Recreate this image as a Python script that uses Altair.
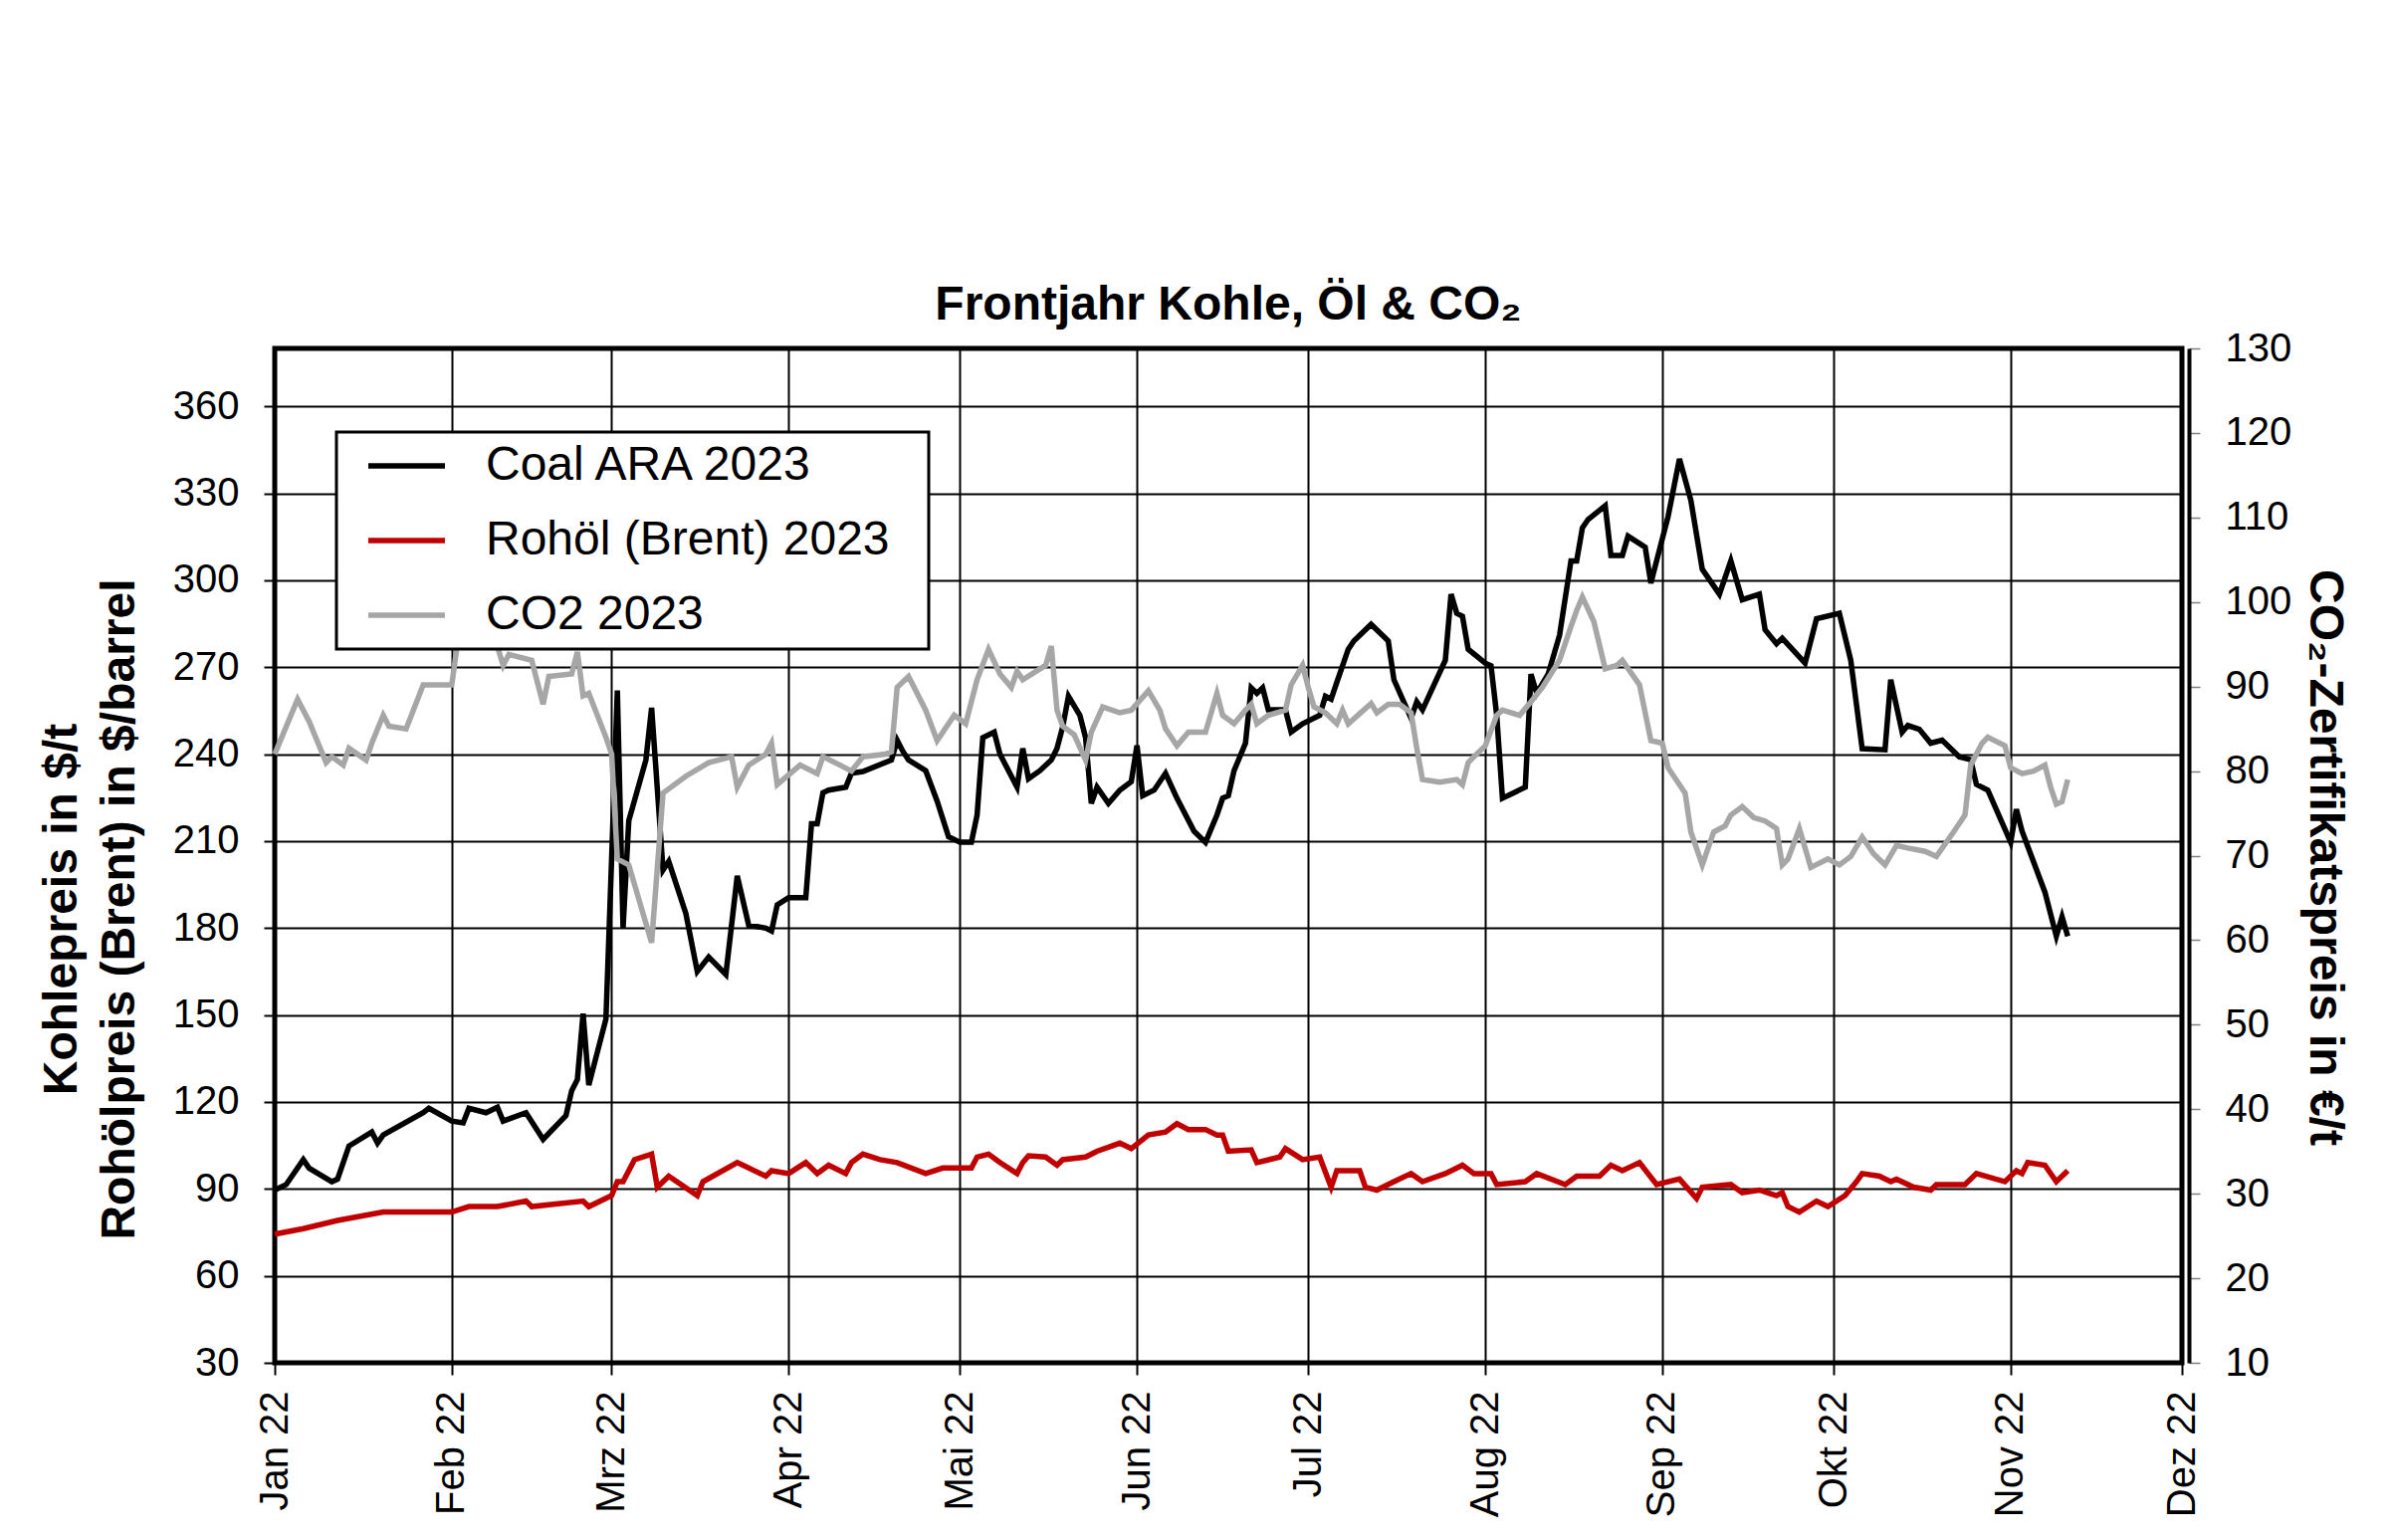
import altair as alt
import pandas as pd

# ---------------- data ----------------
coal_dates = [
    "2022-01-01", "2022-01-03", "2022-01-06", "2022-01-07", "2022-01-11", "2022-01-12", "2022-01-14",
    "2022-01-18", "2022-01-19", "2022-01-20", "2022-01-27", "2022-01-28", "2022-02-01", "2022-02-03",
    "2022-02-04", "2022-02-07", "2022-02-09", "2022-02-10", "2022-02-14", "2022-02-17", "2022-02-21",
    "2022-02-22", "2022-02-23", "2022-02-24", "2022-02-25", "2022-02-28", "2022-03-01", "2022-03-02",
    "2022-03-03", "2022-03-04", "2022-03-07", "2022-03-08", "2022-03-10", "2022-03-11", "2022-03-14",
    "2022-03-16", "2022-03-18", "2022-03-21", "2022-03-23", "2022-03-25", "2022-03-28", "2022-03-29",
    "2022-03-30", "2022-04-01", "2022-04-04", "2022-04-05", "2022-04-06", "2022-04-07", "2022-04-08",
    "2022-04-11", "2022-04-12", "2022-04-14", "2022-04-19", "2022-04-20", "2022-04-21", "2022-04-22",
    "2022-04-25", "2022-04-27", "2022-04-29", "2022-05-01", "2022-05-03", "2022-05-04", "2022-05-05",
    "2022-05-07", "2022-05-08", "2022-05-11", "2022-05-12", "2022-05-13", "2022-05-15", "2022-05-17",
    "2022-05-18", "2022-05-19", "2022-05-20", "2022-05-22", "2022-05-23", "2022-05-24", "2022-05-25",
    "2022-05-27", "2022-05-29", "2022-05-31", "2022-06-01", "2022-06-02", "2022-06-04", "2022-06-06",
    "2022-06-08", "2022-06-11", "2022-06-13", "2022-06-15", "2022-06-16", "2022-06-17", "2022-06-18",
    "2022-06-20", "2022-06-21", "2022-06-22", "2022-06-23", "2022-06-24", "2022-06-27", "2022-06-28",
    "2022-06-30", "2022-07-03", "2022-07-04", "2022-07-05", "2022-07-06", "2022-07-08", "2022-07-09",
    "2022-07-12", "2022-07-15", "2022-07-16", "2022-07-19", "2022-07-20", "2022-07-21", "2022-07-25",
    "2022-07-26", "2022-07-27", "2022-07-28", "2022-07-29", "2022-08-01", "2022-08-02", "2022-08-03",
    "2022-08-04", "2022-08-08", "2022-08-09", "2022-08-10", "2022-08-12", "2022-08-14", "2022-08-16",
    "2022-08-17", "2022-08-18", "2022-08-19", "2022-08-22", "2022-08-23", "2022-08-25", "2022-08-26",
    "2022-08-29", "2022-08-30", "2022-08-31", "2022-09-02", "2022-09-04", "2022-09-06", "2022-09-08",
    "2022-09-11", "2022-09-13", "2022-09-15", "2022-09-18", "2022-09-19", "2022-09-21", "2022-09-22",
    "2022-09-26", "2022-09-28", "2022-10-02", "2022-10-04", "2022-10-06", "2022-10-10", "2022-10-11",
    "2022-10-13", "2022-10-14", "2022-10-16", "2022-10-18", "2022-10-20", "2022-10-23", "2022-10-25",
    "2022-10-26", "2022-10-28", "2022-11-01", "2022-11-02", "2022-11-03", "2022-11-07", "2022-11-09",
    "2022-11-10", "2022-11-11",
]
coal_values = [
    89.6, 91.5, 100.1, 97.2, 92.5, 93.4, 104.8,
    109.6, 105.8, 108.6, 116.3, 117.8, 113.4, 112.8,
    117.8, 116.3, 118.2, 113.4, 116.3, 107.1, 115.3,
    123.9, 127.7, 150.5, 125.8, 148.6, 204.0, 262.0,
    180.0, 217.0, 238.0, 256.0, 200.0, 203.0, 185.0,
    165.0, 170.0, 164.0, 198.0, 181.0, 180.0, 179.0,
    188.0, 190.5, 190.5, 216.0, 216.0, 226.7, 227.6,
    228.6, 233.4, 234.0, 238.0, 244.8, 241.0, 238.0,
    234.3, 223.8, 211.5, 209.6, 209.6, 219.0, 245.7,
    247.6, 240.0, 228.6, 242.0, 231.5, 234.3, 238.0,
    242.0, 249.5, 260.0, 253.4, 245.7, 223.0, 228.6,
    223.0, 227.6, 230.5, 243.0, 225.7, 227.6, 233.4,
    224.8, 213.4, 209.6, 219.0, 224.8, 225.7, 234.3,
    243.8, 262.9, 261.0, 262.9, 255.3, 255.3, 247.6,
    250.5, 253.4, 260.0, 259.0, 264.8, 276.2, 279.1,
    284.8, 279.1, 265.7, 252.4, 258.1, 255.3, 272.4,
    295.2, 288.6, 287.6, 276.2, 271.4, 270.5, 253.4,
    224.8, 228.6, 267.6, 261.0, 267.6, 281.0, 306.7,
    306.7, 318.1, 321.0, 325.7, 308.6, 308.6, 315.2,
    311.4, 299.0, 306.7, 321.9, 341.9, 327.6, 303.8,
    295.2, 306.7, 293.3, 295.2, 282.9, 278.1, 280.0,
    271.4, 286.7, 288.6, 272.4, 241.9, 241.5, 265.7,
    247.6, 249.9, 248.6, 243.8, 244.8, 239.1, 238.1,
    229.6, 227.6, 209.6, 221.0, 213.4, 192.4, 177.2,
    183.9, 177.2,
]

brent_dates = [
    "2022-01-01", "2022-01-06", "2022-01-12", "2022-01-20", "2022-01-27", "2022-02-01", "2022-02-04",
    "2022-02-09", "2022-02-14", "2022-02-15", "2022-02-24", "2022-02-25", "2022-03-01", "2022-03-02",
    "2022-03-03", "2022-03-05", "2022-03-08", "2022-03-09", "2022-03-11", "2022-03-16", "2022-03-17",
    "2022-03-23", "2022-03-24", "2022-03-28", "2022-03-29", "2022-04-01", "2022-04-04", "2022-04-06",
    "2022-04-08", "2022-04-11", "2022-04-12", "2022-04-14", "2022-04-17", "2022-04-20", "2022-04-25",
    "2022-04-28", "2022-05-03", "2022-05-04", "2022-05-06", "2022-05-08", "2022-05-11", "2022-05-12",
    "2022-05-13", "2022-05-16", "2022-05-18", "2022-05-19", "2022-05-23", "2022-05-25", "2022-05-29",
    "2022-05-31", "2022-06-03", "2022-06-06", "2022-06-08", "2022-06-10", "2022-06-13", "2022-06-15",
    "2022-06-16", "2022-06-17", "2022-06-21", "2022-06-22", "2022-06-26", "2022-06-27", "2022-06-30",
    "2022-07-03", "2022-07-05", "2022-07-06", "2022-07-10", "2022-07-11", "2022-07-13", "2022-07-16",
    "2022-07-19", "2022-07-21", "2022-07-25", "2022-07-28", "2022-07-30", "2022-08-02", "2022-08-03",
    "2022-08-08", "2022-08-10", "2022-08-15", "2022-08-17", "2022-08-21", "2022-08-23", "2022-08-25",
    "2022-08-28", "2022-08-31", "2022-09-04", "2022-09-07", "2022-09-08", "2022-09-13", "2022-09-15",
    "2022-09-18", "2022-09-21", "2022-09-22", "2022-09-23", "2022-09-25", "2022-09-28", "2022-09-30",
    "2022-10-03", "2022-10-05", "2022-10-06", "2022-10-09", "2022-10-11", "2022-10-12", "2022-10-15",
    "2022-10-18", "2022-10-19", "2022-10-24", "2022-10-26", "2022-10-31", "2022-11-02", "2022-11-03",
    "2022-11-04", "2022-11-07", "2022-11-09", "2022-11-11",
]
brent_values = [
    74.4, 76.3, 79.1, 82.0, 82.0, 82.0, 83.9,
    83.9, 85.8, 83.9, 85.8, 83.9, 87.7, 92.5,
    92.5, 100.1, 102.0, 90.6, 94.4, 87.7, 92.5,
    99.1, 98.2, 94.4, 96.3, 95.3, 99.1, 95.3,
    98.2, 95.3, 99.1, 102.0, 100.1, 99.1, 95.3,
    97.2, 97.2, 101.0, 102.0, 99.1, 95.3, 99.1,
    101.4, 101.0, 98.2, 100.1, 101.0, 103.0, 105.8,
    103.9, 108.6, 109.6, 112.5, 110.5, 110.5, 108.6,
    108.6, 103.0, 103.5, 99.1, 101.0, 103.9, 100.1,
    101.0, 90.6, 96.3, 96.3, 90.6, 89.6, 92.5,
    95.3, 92.5, 95.3, 98.2, 95.3, 95.3, 91.5,
    92.5, 95.3, 91.5, 94.4, 94.4, 98.2, 96.3,
    99.1, 91.5, 93.4, 86.7, 90.6, 91.5, 88.7,
    89.6, 87.7, 88.7, 83.9, 82.0, 85.8, 83.9,
    87.7, 92.5, 95.3, 94.4, 92.5, 93.4, 90.6,
    89.6, 91.5, 91.5, 95.3, 92.5, 96.3, 95.3,
    99.1, 98.2, 92.5, 96.3,
]

co2_dates = [
    "2022-01-01", "2022-01-05", "2022-01-07", "2022-01-10", "2022-01-11", "2022-01-13", "2022-01-14",
    "2022-01-17", "2022-01-18", "2022-01-20", "2022-01-21", "2022-01-24", "2022-01-27", "2022-02-01",
    "2022-02-02", "2022-02-03", "2022-02-04", "2022-02-07", "2022-02-08", "2022-02-10", "2022-02-11",
    "2022-02-15", "2022-02-17", "2022-02-18", "2022-02-22", "2022-02-23", "2022-02-24", "2022-02-25",
    "2022-02-28", "2022-03-01", "2022-03-02", "2022-03-04", "2022-03-08", "2022-03-10", "2022-03-14",
    "2022-03-18", "2022-03-22", "2022-03-23", "2022-03-25", "2022-03-28", "2022-03-29", "2022-03-30",
    "2022-04-03", "2022-04-06", "2022-04-07", "2022-04-10", "2022-04-12", "2022-04-14", "2022-04-18",
    "2022-04-19", "2022-04-20", "2022-04-22", "2022-04-25", "2022-04-27", "2022-04-30", "2022-05-02",
    "2022-05-04", "2022-05-06", "2022-05-08", "2022-05-10", "2022-05-11", "2022-05-12", "2022-05-16",
    "2022-05-17", "2022-05-18", "2022-05-19", "2022-05-21", "2022-05-23", "2022-05-24", "2022-05-26",
    "2022-05-29", "2022-05-31", "2022-06-03", "2022-06-05", "2022-06-06", "2022-06-08", "2022-06-10",
    "2022-06-13", "2022-06-15", "2022-06-16", "2022-06-18", "2022-06-20", "2022-06-21", "2022-06-22",
    "2022-06-24", "2022-06-27", "2022-06-28", "2022-06-30", "2022-07-01", "2022-07-02", "2022-07-04",
    "2022-07-06", "2022-07-07", "2022-07-08", "2022-07-12", "2022-07-13", "2022-07-15", "2022-07-17",
    "2022-07-19", "2022-07-20", "2022-07-21", "2022-07-24", "2022-07-27", "2022-07-28", "2022-07-29",
    "2022-07-30", "2022-08-01", "2022-08-03", "2022-08-04", "2022-08-07", "2022-08-09", "2022-08-11",
    "2022-08-14", "2022-08-16", "2022-08-17", "2022-08-18", "2022-08-20", "2022-08-22", "2022-08-24",
    "2022-08-25", "2022-08-28", "2022-08-30", "2022-09-01", "2022-09-02", "2022-09-05", "2022-09-06",
    "2022-09-08", "2022-09-10", "2022-09-12", "2022-09-13", "2022-09-15", "2022-09-17", "2022-09-19",
    "2022-09-21", "2022-09-22", "2022-09-23", "2022-09-25", "2022-09-27", "2022-09-30", "2022-10-02",
    "2022-10-04", "2022-10-06", "2022-10-08", "2022-10-10", "2022-10-12", "2022-10-14", "2022-10-17",
    "2022-10-19", "2022-10-22", "2022-10-24", "2022-10-25", "2022-10-26", "2022-10-27", "2022-10-28",
    "2022-10-31", "2022-11-01", "2022-11-03", "2022-11-05", "2022-11-07", "2022-11-08", "2022-11-09",
    "2022-11-10", "2022-11-11",
]
co2_values = [
    82.0, 88.5, 85.9, 81.0, 81.7, 80.7, 82.7,
    81.3, 83.3, 86.6, 85.3, 85.0, 90.2, 90.2,
    95.1, 97.5, 96.0, 98.0, 97.0, 92.5, 93.8,
    93.1, 87.9, 91.2, 91.5, 94.1, 88.9, 89.2,
    84.0, 82.0, 69.6, 68.9, 59.7, 77.4, 79.4,
    81.0, 81.7, 78.1, 80.7, 82.0, 83.3, 78.4,
    80.7, 79.7, 81.7, 80.7, 80.0, 81.7, 82.0,
    82.3, 89.9, 91.2, 87.2, 83.6, 86.6, 85.6,
    90.8, 94.4, 91.5, 89.9, 91.8, 90.8, 92.5,
    94.8, 87.2, 85.3, 84.3, 81.3, 84.6, 87.6,
    86.9, 87.2, 89.5, 87.2, 85.0, 83.0, 84.6,
    84.6, 89.2, 86.6, 85.6, 87.2, 87.9, 85.6,
    86.6, 87.2, 90.2, 92.5, 89.9, 87.6, 86.9,
    85.6, 87.2, 85.6, 88.0, 86.9, 87.9, 87.9,
    86.9, 82.7, 79.0, 78.7, 79.0, 78.4, 81.0,
    81.7, 83.0, 86.6, 87.2, 86.6, 88.2, 89.9,
    93.1, 97.1, 99.0, 100.6, 97.7, 92.1, 92.5,
    93.1, 90.2, 83.6, 83.3, 80.4, 77.4, 72.8,
    68.9, 72.8, 73.5, 74.8, 75.8, 74.5, 74.1,
    73.2, 68.9, 69.6, 73.2, 68.6, 69.6, 68.9,
    69.9, 72.2, 70.2, 68.9, 71.2, 70.9, 70.5,
    69.9, 72.8, 74.8, 80.7, 82.0, 83.3, 84.0,
    83.0, 80.4, 79.7, 80.0, 80.7, 78.1, 76.1,
    76.4, 79.0,
]

series_names = ["Coal ARA 2023", "Rohöl (Brent) 2023", "CO2 2023"]
series_colors = ["#000000", "#C00000", "#A6A6A6"]
month_labels = ["Jan", "Feb", "Mrz", "Apr", "Mai", "Jun", "Jul", "Aug", "Sep", "Okt", "Nov", "Dez"]
left_ticks = list(range(30, 361, 30))
right_ticks = list(range(10, 131, 10))

# ---------------- tables ----------------
left_df = pd.concat([
    pd.DataFrame({"Datum": coal_dates, "Wert": coal_values, "Serie": series_names[0]}),
    pd.DataFrame({"Datum": brent_dates, "Wert": brent_values, "Serie": series_names[1]}),
], ignore_index=True)
co2_df = pd.DataFrame({"Datum": co2_dates, "Wert": co2_values, "Serie": series_names[2]})

FONT = "Liberation Sans"
W, H = 1916, 1019

month_expr = "[" + ",".join("'%s'" % m for m in month_labels) + "][utcmonth(datum.value)] + ' 22'"

x_enc = alt.X(
    "Datum:T",
    scale=alt.Scale(
        type="utc",
        domain=[alt.DateTime(year=2022, month=1, date=1, utc=True),
                alt.DateTime(year=2022, month=12, date=1, utc=True)],
    ),
    axis=alt.Axis(
        title=None,
        values=[alt.DateTime(year=2022, month=m, date=1, utc=True) for m in range(1, 13)],
        labelExpr=month_expr,
        labelAngle=270,
        labelFont=FONT, labelFontSize=40, labelColor="black",
        labelPadding=16, labelFlush=False, labelOverlap=False,
        tickSize=12, tickColor="black", tickWidth=2,
        grid=True, gridColor="black", gridWidth=2,
        domain=False,
    ),
)

color_enc = alt.Color(
    "Serie:N",
    scale=alt.Scale(domain=series_names, range=series_colors),
    legend=alt.Legend(
        title=".", titleOrient="right", titleFontSize=2, titleColor="white", titlePadding=28,
        orient="none", legendX=62, legendY=84,
        symbolType="stroke", symbolSize=5929, symbolStrokeWidth=5.5,
        clipHeight=48,
        labelFont=FONT, labelFontSize=48, labelColor="black", labelLimit=2000,
        labelOffset=38, symbolOffset=19, rowPadding=27, padding=10,
        fillColor="white", strokeColor="black",
    ),
)

left_lines = alt.Chart(left_df).mark_line(strokeWidth=5.5).encode(
    x=x_enc,
    y=alt.Y(
        "Wert:Q",
        scale=alt.Scale(domain=[30, 380], nice=False, zero=False),
        axis=alt.Axis(
            orient="left", values=left_ticks,
            title=["Kohlepreis in $/t", "Rohölpreis (Brent) in $/barrel"],
            titleFont=FONT, titleFontSize=48, titleFontWeight="bold", titleColor="black",
            titleAngle=270, titleAlign="center", titleBaseline="middle", titleLineHeight=58,
            titleX=-214, titleY=563,
            labelFont=FONT, labelFontSize=40, labelColor="black", labelPadding=25,
            labelOverlap=False,
            tickSize=11, tickColor="black", tickWidth=2,
            grid=True, gridColor="black", gridWidth=2,
            domain=False,
        ),
    ),
    color=color_enc,
)

co2_line = alt.Chart(co2_df).mark_line(strokeWidth=5.5).encode(
    x=x_enc,
    y=alt.Y(
        "Wert:Q",
        scale=alt.Scale(domain=[10, 130], nice=False, zero=False),
        axis=alt.Axis(
            orient="right", values=right_ticks,
            title="CO₂-Zertifikatspreis in €/t",
            titleFont=FONT, titleFontSize=48, titleFontWeight="bold", titleColor="black",
            titleAngle=90, titleAlign="center", titleBaseline="middle",
            titleX=135, titleY=511,
            labelFont=FONT, labelFontSize=40, labelColor="black", labelPadding=25,
            labelOverlap=False,
            tickSize=11, tickColor="#808080", tickWidth=1.5,
            grid=False, domain=True, domainColor="black", domainWidth=4, offset=7,
        ),
    ),
    color=color_enc,
)

chart = (
    alt.layer(left_lines, co2_line)
    .resolve_scale(y="independent")
    .properties(
        width=W, height=H,
        autosize=alt.AutoSizeParams(type="none"),
        padding={"left": 268, "top": 342, "right": 200, "bottom": 170},
        title=alt.TitleParams(
            text="Frontjahr Kohle, Öl & CO₂",
            font=FONT,
            fontSize=48, fontWeight="bold", color="black",
            anchor="middle", frame="group", baseline="alphabetic", offset=-39,
        ),
        background="white",
    )
    .configure_view(stroke="black", strokeWidth=5)
    .configure_legend(strokeWidth=3)
)

chart.save("out.html", embed_options={"renderer": "svg", "actions": False})
